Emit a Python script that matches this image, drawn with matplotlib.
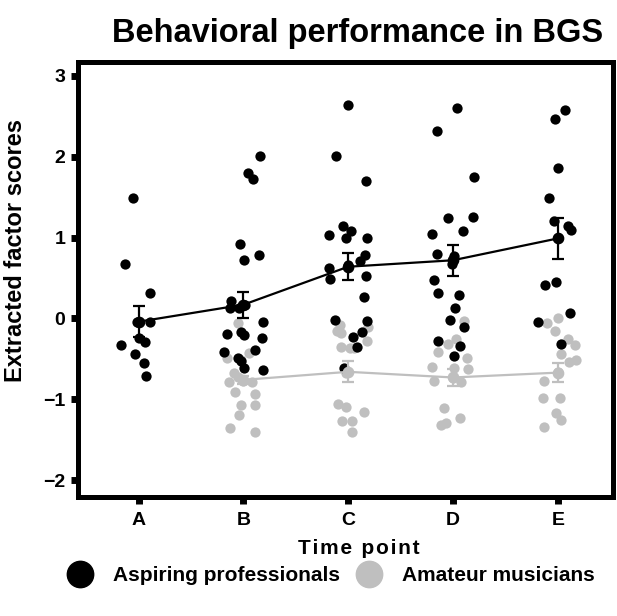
import numpy as np
import matplotlib.pyplot as plt
from matplotlib.lines import Line2D

plt.rcParams['font.family'] = ['Liberation Sans', 'DejaVu Sans']
plt.rcParams['font.weight'] = 'bold'

time_points = ['A', 'B', 'C', 'D', 'E']

# aspiring professionals: factor scores and horizontal jitter per time point
pro_scores = [
    [1.49, 0.67, 0.31, -0.04, -0.04, -0.24, -0.29, -0.33, -0.44, -0.55, -0.71],
    [2.01, 1.80, 1.73, 0.92, 0.79, 0.72, 0.21, 0.13, 0.13, 0.17, -0.04, -0.19,
     -0.17, -0.20, -0.24, -0.41, -0.39, -0.49, -0.53, -0.61, -0.64],
    [2.64, 2.01, 1.70, 1.14, 1.08, 1.03, 0.99, 1.00, 0.78, 0.71, 0.66, 0.63,
     0.49, 0.52, 0.26, -0.02, -0.03, -0.17, -0.23, -0.35, -0.61],
    [2.60, 2.32, 1.75, 1.24, 1.25, 1.08, 1.04, 0.80, 0.77, 0.67, 0.47, 0.31,
     0.29, 0.13, -0.02, -0.11, -0.28, -0.34, -0.47],
    [2.58, 2.47, 1.86, 1.49, 1.21, 1.14, 1.10, 0.99, 0.42, 0.45, 0.07, -0.04, -0.31],
]
pro_jitter = [
    [-0.05, -0.13, 0.11, -0.01, 0.11, 0.0, 0.06, -0.17, -0.03, 0.05, 0.07],
    [0.16, 0.04, 0.09, -0.03, 0.15, 0.01, -0.12, -0.13, -0.04, 0.02, 0.19, -0.16,
     -0.02, 0.01, 0.18, -0.18, 0.11, -0.05, -0.02, 0.01, 0.19],
    [0.0, -0.12, 0.17, -0.05, 0.03, -0.18, -0.02, 0.18, 0.16, 0.11, 0.0, -0.18,
     -0.17, 0.17, 0.15, -0.13, 0.18, 0.13, 0.05, 0.08, -0.04],
    [0.04, -0.15, 0.20, -0.05, 0.19, 0.10, -0.20, -0.15, 0.01, -0.01, -0.18, -0.14,
     0.06, 0.02, -0.03, 0.11, -0.14, 0.07, 0.01],
    [0.07, -0.03, 0.0, -0.08, -0.04, 0.10, 0.13, 0.0, -0.12, -0.02, 0.12, -0.19, 0.03],
]

# amateur musicians (no data at A)
ama_scores = [
    [],
    [-0.06, -0.49, -0.43, -0.51, -0.67, -0.72, -0.77, -0.79, -0.79, -0.91, -0.93,
     -1.07, -1.07, -1.19, -1.35, -1.40],
    [-0.08, -0.16, -0.10, -0.28, -0.18, -0.35, -0.37, -0.36, -0.68, -1.06, -1.10,
     -1.16, -1.27, -1.27, -1.41],
    [-0.03, -0.31, -0.26, -0.41, -0.49, -0.60, -0.61, -0.62, -0.77, -0.74, -0.78,
     -1.11, -1.23, -1.29, -1.32],
    [-0.06, 0.00, -0.16, -0.25, -0.33, -0.44, -0.54, -0.51, -0.66, -0.77, -0.99,
     -0.98, -1.17, -1.26, -1.34],
]
ama_jitter = [
    [],
    [-0.05, -0.16, 0.05, -0.02, -0.09, -0.05, 0.0, -0.14, 0.08, -0.08, 0.11,
     -0.02, 0.11, -0.04, -0.13, 0.11],
    [-0.08, -0.11, 0.19, 0.18, -0.07, -0.07, 0.02, 0.06, -0.02, -0.1, -0.02,
     0.15, -0.06, 0.04, 0.04],
    [0.11, -0.05, 0.03, -0.14, 0.13, -0.20, 0.01, 0.14, -0.18, 0.0, 0.08,
     -0.09, 0.07, -0.07, -0.11],
    [-0.10, 0.0, -0.03, 0.10, 0.16, 0.03, 0.11, 0.17, 0.0, -0.13, -0.14,
     0.02, -0.02, 0.03, -0.13],
]

pro_mean = [-0.04, 0.17, 0.64, 0.72, 0.99]
pro_sem = [0.19, 0.16, 0.17, 0.19, 0.25]
ama_mean = [-0.76, -0.66, -0.73, -0.67]
ama_sem = [0.05, 0.13, 0.10, 0.12]

BLACK = '#000000'
GREY = '#bfbfbf'

fig = plt.figure(figsize=(6.17, 6.16), dpi=100)
ax = fig.add_axes([0.126, 0.193, 0.868, 0.706])

x = np.arange(len(time_points))

# individual scores
for i in range(len(time_points)):
    if ama_scores[i]:
        ax.plot(x[i] + np.array(ama_jitter[i]), ama_scores[i], 'o', color=GREY,
                markersize=7.4, markeredgewidth=0, zorder=2)
for i in range(len(time_points)):
    ax.plot(x[i] + np.array(pro_jitter[i]), pro_scores[i], 'o', color=BLACK,
            markersize=7.4, markeredgewidth=0, zorder=3)

# group means +/- SEM
ax.errorbar(x[1:], ama_mean, yerr=ama_sem, color=GREY, linewidth=1.6,
            marker='o', markersize=7.4, capsize=4, capthick=1.6, elinewidth=1.6, zorder=4)
ax.errorbar(x, pro_mean, yerr=pro_sem, color=BLACK, linewidth=1.6,
            marker='o', markersize=7.4, capsize=4, capthick=1.6, elinewidth=1.6, zorder=5)

ax.set_xlim(-0.58, 4.53)
ax.set_ylim(-2.21, 3.17)
ax.set_xticks(x)
ax.set_xticklabels(time_points)
ax.set_yticks([-2, -1, 0, 1, 2, 3])
ax.set_yticklabels(['\u22122', '\u22121', '0', '1', '2', '3'])

for s in ax.spines.values():
    s.set_linewidth(3.6)
ax.tick_params(axis='both', length=5, width=5, labelsize=14, pad=4)
ax.tick_params(axis='x', pad=6)

# letter-spaced axis label
ax.set_xlabel('\u200a'.join('Time point'), fontsize=15, fontweight='bold')
ax.xaxis.set_label_coords(0.525, -0.097)
ax.set_ylabel('Extracted factor scores', fontsize=17, fontweight='bold')
ax.yaxis.set_label_coords(-0.094, 0.568)

fig.text(0.579, 0.945, 'Behavioral performance in BGS', fontsize=23.5,
         fontweight='bold', ha='center', va='center')

handles = [
    Line2D([], [], marker='o', linestyle='none', color=BLACK, markersize=19),
    Line2D([], [], marker='o', linestyle='none', color=GREY, markersize=19),
]
fig.legend(handles, ['Aspiring professionals', 'Amateur musicians'],
           loc='center', bbox_to_anchor=(0.53, 0.065), ncol=2, frameon=False,
           prop={'size': 15, 'weight': 'bold'}, handletextpad=0.6, columnspacing=0.4)

fig.savefig('out.png', dpi=100)
